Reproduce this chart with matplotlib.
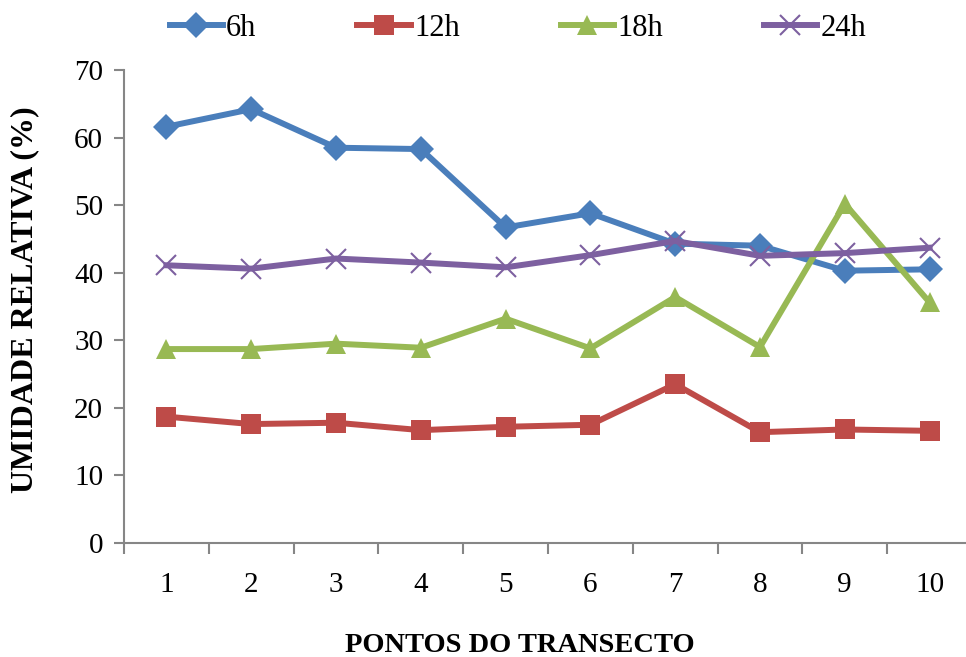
import matplotlib
matplotlib.use("Agg")
import matplotlib.pyplot as plt
from matplotlib.ticker import FixedLocator, MultipleLocator

points = [1, 2, 3, 4, 5, 6, 7, 8, 9, 10]
h6 = [61.6, 64.2, 58.5, 58.3, 46.7, 48.8, 44.3, 44.0, 40.3, 40.5]
h12 = [18.7, 17.6, 17.8, 16.7, 17.2, 17.5, 23.5, 16.4, 16.8, 16.6]
h18 = [28.7, 28.7, 29.5, 28.9, 33.2, 28.8, 36.4, 29.0, 50.2, 35.6]
h24 = [41.1, 40.6, 42.1, 41.5, 40.8, 42.6, 44.7, 42.5, 42.9, 43.7]
labels = ["6h", "12h", "18h", "24h"]

plt.rcParams["font.family"] = ["Liberation Serif", "DejaVu Serif"]

fig = plt.figure(figsize=(9.66, 6.57), dpi=100)
ax = fig.add_axes([124 / 966, 114 / 657, 848 / 966, 473 / 657])

styles = [
    (h6, "#4A7EBB", "D", 13),
    (h12, "#BE4B48", "s", 14),
    (h18, "#98B954", "^", 15),
    (h24, "#7D60A0", "x", 14),
]
for (vals, color, marker, ms), lab in zip(styles, labels):
    kw = dict(markeredgewidth=1.5) if marker == "x" else dict(markeredgewidth=0)
    ax.plot(points, vals, color=color, lw=4.3, marker=marker, ms=ms,
            markerfacecolor=color, markeredgecolor=color, label=lab,
            solid_joinstyle="round", **kw)

ax.set_xlim(0.5, 10.5)
ax.set_ylim(0, 70)
ax.yaxis.set_major_locator(MultipleLocator(10))
ax.xaxis.set_major_locator(FixedLocator(points))
ax.xaxis.set_minor_locator(FixedLocator([p - 0.5 for p in points] + [10.5]))
ax.set_xticklabels([str(p) for p in points])

for s in ("top", "right"):
    ax.spines[s].set_visible(False)
for s in ("left", "bottom"):
    ax.spines[s].set_color("#868686")
    ax.spines[s].set_linewidth(1.5)

ax.tick_params(axis="y", direction="out", length=7, width=1.5, color="#868686",
               labelsize=21, pad=8)
ax.tick_params(axis="x", which="major", length=0, labelsize=21, pad=21)
ax.tick_params(axis="x", which="minor", direction="out", length=8, width=1.5,
               color="#868686")

ax.set_ylabel("UMIDADE RELATIVA (%)", fontsize=23, fontweight="bold")
ax.yaxis.set_label_coords(-99 / 848, 243 / 473)
ax.set_xlabel("PONTOS DO TRANSECTO", fontsize=20.5, fontweight="bold")
ax.xaxis.set_label_coords(396 / 848, -102 / 473)
ax.xaxis.label.set_verticalalignment("center")
ax.yaxis.label.set_verticalalignment("center")

fig.legend(loc="center", bbox_to_anchor=(0.536, 1 - 28 / 657), ncol=4, frameon=False,
           fontsize=22, handlelength=1.75, columnspacing=3.3, handletextpad=0.1,
           borderaxespad=0)

fig.savefig("out.png", dpi=100)
